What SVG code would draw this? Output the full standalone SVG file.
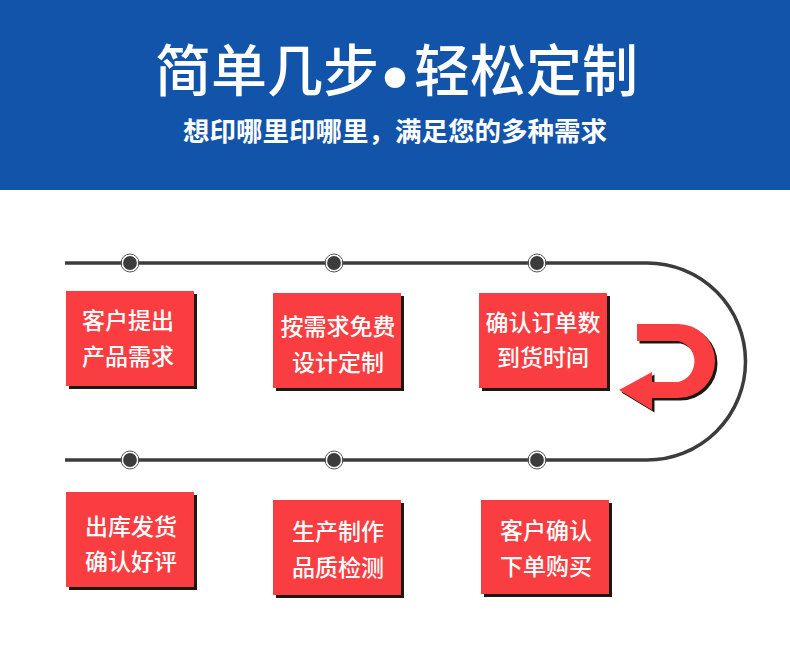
<svg xmlns="http://www.w3.org/2000/svg" width="790" height="658" viewBox="0 0 790 658">
<defs>
<style>
.t{font-family:"Noto Sans CJK SC","Noto Sans CJK TC",sans-serif;fill:#fff;text-anchor:middle}
.lbl{font-size:23px;font-weight:500}
.box{fill:#f93d40}
.sh{fill:#1b1a12}
.line{fill:none;stroke:#3c3c3c;stroke-width:3.5}
.dot{fill:#3c3c3c;stroke:#fff;stroke-width:1.2}
.ring{fill:none;stroke:#555;stroke-width:1}
</style>
</defs>
<rect width="790" height="658" fill="#fff"/>
<g id="header">
<rect x="0" y="0" width="790" height="190" fill="#1254a9"/>
<text class="t" font-size="56" font-weight="500" style="text-anchor:start"><tspan x="155" y="91">简单几步</tspan><tspan x="395" y="111" font-size="88" style="text-anchor:middle">•</tspan><tspan x="414" y="91" style="text-anchor:start">轻松定制</tspan></text>
<text class="t" x="395" y="141" font-size="26.5" font-weight="700">想印哪里印哪里，满足您的多种需求</text>
</g>
<g id="connectors">
<path class="line" d="M65,263 H647 A98.5,98.5 0 0 1 647,460 H65"/>
<g id="dots">
<circle class="ring" cx="130" cy="263" r="9"/><circle class="dot" cx="130" cy="263" r="7.5"/>
<circle class="ring" cx="334" cy="263" r="9"/><circle class="dot" cx="334" cy="263" r="7.5"/>
<circle class="ring" cx="537" cy="263" r="9"/><circle class="dot" cx="537" cy="263" r="7.5"/>
<circle class="ring" cx="130" cy="460" r="9"/><circle class="dot" cx="130" cy="460" r="7.5"/>
<circle class="ring" cx="334" cy="460" r="9"/><circle class="dot" cx="334" cy="460" r="7.5"/>
<circle class="ring" cx="537" cy="460" r="9"/><circle class="dot" cx="537" cy="460" r="7.5"/>
</g>
<g id="uturn">
<path fill="#1b1a12" transform="translate(2.5,2.5)" d="M637,324 H678 A37,37 0 0 1 678,398 H652 V410 L619,390 L652,372 V382 H678 A21,21 0 0 0 678,341 H637 Z"/>
<path fill="#f93d40" d="M637,324 H678 A37,37 0 0 1 678,398 H652 V410 L619,390 L652,372 V382 H678 A21,21 0 0 0 678,341 H637 Z"/>
</g>
</g>
<g id="n1">
<rect class="sh" x="69" y="294" width="128" height="95"/>
<rect class="box" x="66" y="291" width="128" height="95"/>
<text class="t lbl" x="128" y="329">客户提出</text>
<text class="t lbl" x="128" y="365">产品需求</text>
</g>
<g id="n2">
<rect class="sh" x="276" y="296" width="128" height="95"/>
<rect class="box" x="273" y="293" width="128" height="95"/>
<text class="t lbl" x="338" y="335">按需求免费</text>
<text class="t lbl" x="338" y="371">设计定制</text>
</g>
<g id="n3">
<rect class="sh" x="482" y="296" width="128" height="95"/>
<rect class="box" x="479" y="293" width="128" height="95"/>
<text class="t lbl" x="543" y="331">确认订单数</text>
<text class="t lbl" x="543" y="366">到货时间</text>
</g>
<g id="n4">
<rect class="sh" x="69" y="495" width="128" height="95"/>
<rect class="box" x="66" y="492" width="128" height="95"/>
<text class="t lbl" x="131" y="535">出库发货</text>
<text class="t lbl" x="131" y="570">确认好评</text>
</g>
<g id="n5">
<rect class="sh" x="276" y="503" width="128" height="95"/>
<rect class="box" x="273" y="500" width="128" height="95"/>
<text class="t lbl" x="338" y="540">生产制作</text>
<text class="t lbl" x="338" y="576">品质检测</text>
</g>
<g id="n6">
<rect class="sh" x="484" y="503" width="128" height="94"/>
<rect class="box" x="481" y="500" width="128" height="94"/>
<text class="t lbl" x="546" y="539">客户确认</text>
<text class="t lbl" x="546" y="575">下单购买</text>
</g>
</svg>
